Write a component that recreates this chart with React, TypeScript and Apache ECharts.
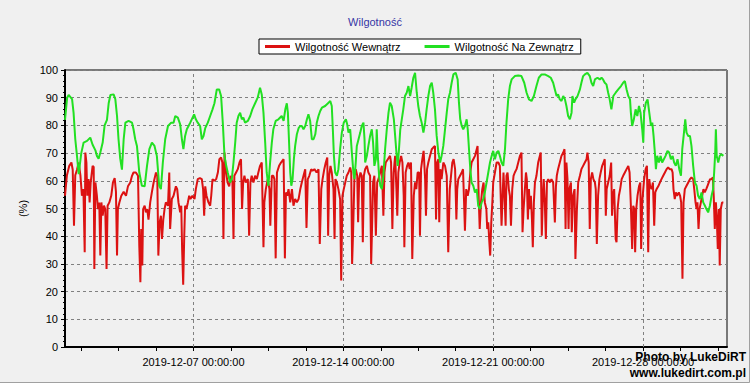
import React, { useEffect, useRef } from 'react';
import * as echarts from 'echarts';

// x values are days elapsed since 2019-12-01 00:00:00
const xMaxDay = 30.92;
const labelDays = [6, 13, 20, 27];
const labelTexts = ['2019-12-07 00:00:00', '2019-12-14 00:00:00', '2019-12-21 00:00:00', '2019-12-28 00:00:00'];
const minorTickDays = [0.75, 2.5, 4.25, 6, 7.75, 9.5, 11.25, 13, 14.75, 16.5, 18.25, 20, 21.75, 23.5, 25.25, 27, 28.75, 30.5];
const seriesNames = ['Wilgotność Wewnątrz', 'Wilgotność Na Zewnątrz'];
const chartTitle = 'Wilgotność';
const yName = '(%)';

const indoor: [number, number][] = [
  [0, 54.6], [0.09, 62], [0.2, 65.4], [0.3, 66.6], [0.36, 64], [0.42, 43.8], [0.48, 62], [0.56, 64], [0.64, 66.6], [0.72, 62], [0.79, 54.6], [0.86, 57], [0.92, 34.2], [0.95, 70.2], [1.0, 66.6], [1.04, 54.6], [1.1, 60.6], [1.15, 52.2], [1.2, 59.4], [1.29, 65.4], [1.34, 65], [1.37, 28.2], [1.42, 59.4], [1.49, 54.6], [1.54, 49.8], [1.6, 52.2], [1.65, 33], [1.7, 52.2], [1.76, 47.4], [1.82, 51], [1.88, 49.8], [1.94, 28.2], [1.99, 51], [2.07, 52.2], [2.16, 54.6], [2.24, 59.4], [2.32, 61], [2.38, 56], [2.43, 33], [2.47, 49.8], [2.54, 52.2], [2.63, 54.6], [2.74, 56], [2.85, 54.6], [2.94, 58], [3.05, 59.4], [3.13, 61.8], [3.2, 63], [3.31, 63], [3.41, 61.8], [3.47, 36.6], [3.52, 23.4], [3.56, 42.6], [3.61, 29.4], [3.65, 49.8], [3.72, 51], [3.78, 48.6], [3.84, 49.8], [3.9, 46], [3.98, 52.2], [4.06, 56], [4.14, 59.4], [4.25, 63], [4.31, 61.8], [4.36, 33], [4.42, 45], [4.48, 47.4], [4.53, 39], [4.59, 46], [4.65, 49.8], [4.71, 52.2], [4.81, 51], [4.87, 63], [4.91, 42.6], [4.99, 53.4],
  [5.07, 54.6], [5.18, 58], [5.24, 57], [5.3, 52.2], [5.38, 48.6], [5.43, 51], [5.47, 35.4], [5.52, 22.5], [5.57, 40.2], [5.61, 51], [5.67, 49.8], [5.74, 52.2], [5.8, 54.6], [5.86, 53.4], [5.95, 54.6], [6.05, 53.4], [6.11, 57], [6.2, 60.6], [6.3, 61], [6.39, 60.6], [6.45, 57], [6.5, 47.4], [6.55, 58], [6.61, 54.6], [6.7, 52.2], [6.78, 51], [6.83, 54.6], [6.89, 60.6], [6.98, 60], [7.06, 60.6], [7.14, 63], [7.21, 67.8], [7.29, 68.4], [7.35, 66.6], [7.4, 39], [7.45, 70.2], [7.51, 64], [7.59, 59.4], [7.67, 58], [7.73, 61.8], [7.82, 59.4], [7.87, 39], [7.91, 61.8], [7.99, 63], [8.07, 64.2], [8.15, 66.6], [8.22, 67.8], [8.27, 49.8], [8.32, 59.4], [8.38, 61.8], [8.44, 59.4], [8.54, 60.6], [8.6, 40.2], [8.66, 59.4], [8.72, 61.8], [8.8, 59.4], [8.88, 61.8], [8.96, 60.6], [9.03, 63], [9.11, 65.4], [9.19, 66.6], [9.27, 36], [9.31, 52.2], [9.38, 57], [9.47, 60.6], [9.55, 57], [9.59, 43.8], [9.66, 61.8], [9.73, 61.8], [9.78, 60.6], [9.84, 32], [9.9, 63], [10.0, 65.4], [10.09, 66.6],
  [10.21, 67.8], [10.27, 32], [10.32, 55.8], [10.38, 54.6], [10.44, 57], [10.52, 52.2], [10.6, 57], [10.67, 51], [10.75, 53.4], [10.83, 52.2], [10.91, 53.4], [10.99, 57], [11.06, 59.4], [11.14, 61.8], [11.22, 64.2], [11.28, 43], [11.34, 60.6], [11.41, 61.8], [11.5, 64.2], [11.56, 63.6], [11.65, 64.2], [11.75, 63], [11.84, 64.2], [11.9, 37.2], [11.97, 57], [12.03, 60.6], [12.11, 64.2], [12.18, 66.6], [12.25, 68.4], [12.29, 40.2], [12.34, 61.8], [12.4, 65.4], [12.46, 63], [12.54, 57], [12.59, 39], [12.63, 60.6], [12.7, 59.4], [12.77, 57], [12.85, 53.4], [12.9, 24], [12.96, 54.6], [13.02, 57], [13.09, 59.4], [13.16, 61.8], [13.24, 63], [13.32, 64.8], [13.37, 63], [13.41, 30], [13.46, 42.6], [13.52, 61.8], [13.58, 64.2], [13.65, 61.8], [13.69, 45], [13.74, 60.6], [13.8, 63], [13.86, 61.8], [13.91, 37.8], [13.96, 61.8], [14.02, 64.2], [14.1, 65.4], [14.17, 63], [14.25, 61.8], [14.3, 30], [14.34, 42.6], [14.39, 59.4], [14.45, 61.8], [14.52, 40.2], [14.58, 59.4], [14.64, 60.6], [14.72, 63], [14.8, 65.4], [14.87, 47.4], [14.92, 63], [14.98, 66.6], [15.08, 67.8], [15.18, 69], [15.23, 66.6], [15.29, 42.6],
  [15.35, 63], [15.42, 69], [15.48, 57], [15.52, 47.4], [15.57, 63], [15.63, 66.6], [15.7, 69], [15.76, 66.6], [15.82, 54.6], [15.85, 36], [15.91, 63], [15.98, 65.4], [16.04, 66.6], [16.1, 64.2], [16.16, 66.6], [16.22, 31.8], [16.29, 54.6], [16.35, 59.4], [16.41, 57], [16.47, 63], [16.54, 63], [16.58, 40.2], [16.63, 64.2], [16.69, 67.8], [16.75, 70.8], [16.82, 60.6], [16.86, 47.4], [16.91, 64.2], [16.97, 66.6], [17.05, 69], [17.13, 71.4], [17.2, 72], [17.28, 72.6], [17.33, 46], [17.38, 66.6], [17.44, 67.8], [17.48, 45], [17.53, 64.2], [17.59, 60.6], [17.67, 66.6], [17.75, 65.4], [17.83, 61.8], [17.9, 34.2], [17.97, 57], [18.03, 61.8], [18.09, 66.6], [18.15, 67.8], [18.22, 64.2], [18.28, 46], [18.32, 57], [18.37, 60.6], [18.45, 61.8], [18.53, 63], [18.59, 64.2], [18.64, 52.2], [18.68, 42], [18.74, 57], [18.81, 54.6], [18.87, 57], [18.93, 63], [18.99, 66.6], [19.07, 67.8], [19.15, 69], [19.23, 71.4], [19.27, 72.6], [19.32, 54.6], [19.37, 42.6], [19.43, 52.2], [19.49, 57], [19.55, 59.4], [19.61, 52.2], [19.68, 49.8], [19.72, 42.6], [19.77, 45], [19.82, 37.8], [19.86, 33], [19.91, 45], [19.96, 52.2], [20.0, 59.4], [20.08, 63], [20.16, 66.6], [20.24, 66.6], [20.31, 65.4], [20.39, 43.8],
  [20.48, 63], [20.53, 54.6], [20.58, 43.8], [20.62, 61.8], [20.67, 63], [20.73, 57], [20.78, 54.6], [20.83, 43.8], [20.89, 57], [20.95, 61.8], [21.01, 63], [21.09, 64.2], [21.17, 66.6], [21.25, 69], [21.32, 70.2], [21.37, 41.4], [21.42, 49.8], [21.48, 57], [21.53, 63], [21.57, 60.6], [21.62, 46], [21.67, 57], [21.71, 49.8], [21.76, 54.6], [21.81, 46], [21.85, 36], [21.9, 52.2], [21.95, 59.4], [22.02, 61.8], [22.1, 66.6], [22.18, 69], [22.22, 70.2], [22.27, 40.2], [22.32, 54.6], [22.36, 60.6], [22.41, 52.2], [22.46, 39], [22.51, 59.4], [22.57, 60.6], [22.65, 59.4], [22.72, 60.6], [22.8, 59.4], [22.88, 45], [22.93, 58], [22.97, 61.8], [23.03, 64.2], [23.11, 66.6], [23.19, 69], [23.27, 70.2], [23.33, 71.4], [23.38, 42.6], [23.42, 66.6], [23.47, 60.6], [23.52, 42.6], [23.56, 57], [23.63, 59.4], [23.67, 41.4], [23.73, 54.6], [23.8, 57], [23.84, 31.8], [23.91, 49.8], [23.97, 59.4], [24.05, 61.8], [24.12, 64.2], [24.2, 65.4], [24.28, 66.6], [24.36, 67.8], [24.4, 70.2], [24.46, 66.6], [24.51, 42.6], [24.56, 60.6], [24.62, 63], [24.68, 60.6], [24.75, 59.4], [24.79, 57], [24.84, 37.2], [24.9, 54.6], [24.96, 60.6], [25.02, 63], [25.09, 65.4], [25.15, 66.6], [25.21, 67.8], [25.26, 47.4], [25.3, 57], [25.37, 59.4], [25.44, 61.8], [25.51, 66.6], [25.55, 47.4],
  [25.59, 54.6], [25.65, 57], [25.72, 39], [25.76, 37.8], [25.81, 49.8], [25.87, 54.6], [25.93, 57], [26.0, 60.6], [26.07, 61.8], [26.15, 63], [26.23, 64.2], [26.31, 65.4], [26.37, 63], [26.43, 51], [26.49, 35.4], [26.54, 51], [26.59, 49.8], [26.63, 34.2], [26.68, 49.8], [26.74, 54.6], [26.81, 58], [26.87, 59.4], [26.91, 35.4], [26.96, 52.2], [27.01, 57], [27.05, 60.6], [27.12, 64.2], [27.18, 65.4], [27.24, 34.2], [27.29, 60.6], [27.33, 58], [27.4, 57], [27.46, 59.4], [27.52, 43.8], [27.57, 55.8], [27.63, 57], [27.71, 58], [27.79, 59.4], [27.86, 60.6], [27.94, 61.8], [28.02, 63], [28.1, 64.2], [28.17, 64.8], [28.25, 64.2], [28.33, 64.2], [28.38, 63], [28.42, 57], [28.48, 53.4], [28.53, 55.8], [28.59, 54.6], [28.67, 55.8], [28.73, 54.6], [28.78, 52.2], [28.84, 24.6], [28.89, 52.2], [28.95, 57], [29.03, 58.2], [29.11, 59.4], [29.19, 60.6], [29.26, 61.2], [29.34, 60.6], [29.39, 57], [29.45, 52.2], [29.5, 49.8], [29.54, 52.2], [29.59, 42.6], [29.64, 49.8], [29.7, 52.2], [29.76, 54.6], [29.82, 57], [29.88, 55.8], [29.95, 57], [30.01, 58.2], [30.07, 59.4], [30.13, 60.6], [30.2, 60.6], [30.26, 61.2], [30.3, 54.6], [30.35, 42.6], [30.4, 52.2], [30.44, 47.4], [30.49, 35.4], [30.54, 49.8], [30.58, 29.4], [30.63, 49.8], [30.69, 52.2], [30.75, 52.2],
];

const outdoor: [number, number][] = [
  [0, 82], [0.1, 90], [0.17, 91], [0.33, 89.5], [0.4, 84.6], [0.48, 75], [0.56, 69], [0.64, 62.4], [0.76, 70], [0.87, 73.8], [1.03, 74.4], [1.18, 75.6], [1.29, 73], [1.42, 71], [1.49, 69], [1.57, 68], [1.65, 70.2], [1.76, 73.8], [1.85, 80], [1.96, 82], [2.04, 88], [2.12, 91], [2.27, 91.2], [2.35, 89.5], [2.43, 83.4], [2.5, 75], [2.58, 68], [2.66, 64], [2.74, 75], [2.82, 81], [2.97, 81.6], [3.13, 81], [3.2, 78.6], [3.28, 75], [3.36, 72.6], [3.47, 63], [3.59, 58.2], [3.72, 58], [3.83, 65.4], [3.94, 71.4], [4.06, 73.8], [4.18, 72.6], [4.29, 69], [4.4, 58.2], [4.48, 57], [4.57, 66.6], [4.68, 75], [4.81, 79.8], [4.96, 81], [5.07, 81],
  [5.15, 83.4], [5.27, 82.8], [5.38, 80.4], [5.46, 75], [5.53, 71.4], [5.61, 76.2], [5.69, 78.6], [5.77, 79.8], [5.85, 81], [5.92, 82.2], [6.03, 84], [6.11, 82.2], [6.2, 81], [6.31, 79.8], [6.39, 75], [6.47, 76.2], [6.55, 79], [6.67, 81], [6.78, 83.4], [6.89, 85.8], [6.98, 88], [7.09, 93], [7.2, 93], [7.29, 90.6], [7.37, 81], [7.45, 69], [7.53, 65.4], [7.6, 63], [7.71, 59.4], [7.79, 60.6], [7.87, 66.6], [7.95, 73.8], [8.02, 81], [8.1, 83.4], [8.18, 84.6], [8.26, 82.2], [8.33, 82.8], [8.41, 81], [8.54, 81.6], [8.65, 83.4], [8.75, 85.8], [8.88, 88], [9.0, 90], [9.11, 93.6], [9.19, 91.2], [9.27, 84.6], [9.35, 73.8], [9.42, 63], [9.5, 58.2], [9.58, 66.6], [9.66, 73.8], [9.73, 78.6], [9.84, 81.6], [9.97, 82.2], [10.12, 83.4],
  [10.21, 81.6], [10.29, 85.8], [10.36, 88], [10.41, 84.6], [10.47, 73], [10.52, 63], [10.57, 58.2], [10.63, 60.6], [10.69, 67.8], [10.75, 72.6], [10.83, 76.8], [10.91, 79], [10.99, 79.8], [11.06, 79.8], [11.14, 78.6], [11.22, 79.8], [11.3, 82.2], [11.37, 84], [11.45, 81.6], [11.53, 75], [11.61, 75], [11.69, 76.8], [11.76, 81], [11.84, 83.4], [11.92, 85.2], [12.0, 86.4], [12.15, 87], [12.31, 88.2], [12.39, 88.8], [12.46, 87], [12.51, 78.6], [12.56, 69], [12.62, 63], [12.7, 61.8], [12.77, 64.2], [12.85, 71.4], [12.93, 77.4], [13.02, 81], [13.12, 82.2], [13.18, 80.4], [13.24, 77.4], [13.32, 78.6], [13.4, 70], [13.47, 63], [13.52, 60.6], [13.58, 66.6], [13.63, 72.6], [13.71, 75], [13.79, 77.4], [13.86, 79.8], [13.94, 81], [13.99, 75], [14.02, 66.6], [14.1, 69], [14.17, 72.6], [14.25, 76.2], [14.33, 78.6], [14.39, 73.8], [14.45, 65.4], [14.52, 67.8], [14.56, 78.6], [14.61, 69], [14.67, 61.8], [14.73, 58.2], [14.8, 57], [14.87, 61.8], [14.95, 71.4], [15.03, 78.6], [15.11, 84.6], [15.18, 88.2], [15.26, 87], [15.36, 82.2],
  [15.42, 76.2], [15.48, 70.2], [15.54, 65.4], [15.6, 71.4], [15.66, 78.6], [15.73, 82.2], [15.8, 85.8], [15.88, 90.6], [15.96, 91.8], [16.04, 94.2], [16.12, 90.6], [16.19, 93.6], [16.27, 97.2], [16.35, 99], [16.43, 91.8], [16.5, 87], [16.58, 83.4], [16.66, 81], [16.74, 77.4], [16.82, 81], [16.89, 85.8], [16.97, 90.6], [17.05, 94.2], [17.13, 95.4], [17.2, 91.8], [17.28, 85.8], [17.36, 76.2], [17.44, 70.2], [17.52, 66.6], [17.59, 69], [17.67, 72.6], [17.75, 78.6], [17.83, 84.6], [17.9, 89.4], [17.98, 91.8], [18.06, 95.4], [18.14, 98.4], [18.25, 99], [18.34, 96.6], [18.4, 88.2], [18.46, 82.2], [18.53, 79.8], [18.6, 78.6], [18.68, 79.8], [18.76, 82.2], [18.81, 78.6], [18.87, 71.4], [18.93, 64.2], [18.99, 59.4], [19.07, 58.2], [19.15, 55.8], [19.23, 57], [19.3, 51], [19.38, 49.8], [19.46, 52.2], [19.54, 53.4], [19.61, 55.8], [19.69, 59.4], [19.77, 63], [19.85, 66.6], [19.93, 69], [20.0, 70.8], [20.08, 67.8], [20.16, 70.2], [20.24, 70.8], [20.31, 69], [20.39, 66.6],
  [20.47, 65.4], [20.55, 71.4], [20.62, 81], [20.7, 89.4], [20.78, 94.2], [20.86, 96.6], [21.01, 97.8], [21.17, 98], [21.32, 97.8], [21.45, 95.4], [21.56, 91.8], [21.67, 89.4], [21.79, 88.8], [21.9, 90.6], [22.02, 94.2], [22.13, 97.2], [22.26, 98.4], [22.41, 98.4], [22.57, 97.8], [22.69, 97.2], [22.8, 95.4], [22.88, 93], [22.96, 90.6], [23.03, 91.2], [23.11, 89.4], [23.19, 88.8], [23.27, 90.6], [23.35, 89.4], [23.42, 87], [23.5, 83.4], [23.58, 82.2], [23.66, 84.6], [23.7, 90.6], [23.78, 88.2], [23.84, 89.4], [23.94, 90.6], [24.05, 93], [24.12, 95.4], [24.2, 97.8], [24.28, 98.4], [24.4, 99], [24.51, 97.8], [24.59, 95.4], [24.67, 94.2], [24.75, 96.6], [24.87, 97.2], [24.98, 96.6], [25.06, 97.2], [25.13, 96.6], [25.21, 95.4], [25.29, 94.8], [25.37, 91.8], [25.44, 89.4], [25.52, 85.8],
  [25.61, 90.6], [25.72, 91.8], [25.84, 93], [25.97, 94.2], [26.07, 95.4], [26.15, 96], [26.23, 93], [26.31, 90.6], [26.39, 89.4], [26.43, 84.6], [26.49, 79.8], [26.57, 82.2], [26.65, 85.8], [26.73, 83.4], [26.81, 87], [26.88, 84.6], [26.96, 78.6], [27.01, 73.8], [27.05, 84.6], [27.13, 88.2], [27.21, 89.4], [27.29, 84.6], [27.37, 79.8], [27.43, 81], [27.49, 76.2], [27.55, 70.2], [27.6, 64.2], [27.66, 69], [27.74, 66.6], [27.82, 69], [27.89, 66.6], [27.97, 67.8], [28.05, 69], [28.14, 70.8], [28.22, 70.2], [28.3, 67.8], [28.38, 69], [28.45, 66.6], [28.53, 65.4], [28.61, 67.8], [28.69, 64.2], [28.77, 61.8], [28.83, 71.4], [28.91, 77.4], [28.97, 82.2], [29.03, 77.4], [29.11, 76.2], [29.19, 76.2], [29.26, 72.6], [29.34, 65.4], [29.42, 59.4], [29.5, 58.2], [29.57, 54.6], [29.65, 53.4], [29.73, 55.8], [29.81, 52.2], [29.89, 51], [29.96, 49.8], [30.04, 48.6], [30.12, 51], [30.2, 54.6], [30.27, 57], [30.32, 63], [30.37, 70.2], [30.4, 78.6], [30.44, 69], [30.51, 66.6], [30.58, 69], [30.66, 69.6], [30.75, 69],
];

const FONT = '"Liberation Sans", Arial, sans-serif';
const RED = '#dc1212';
const GREEN = '#22e022';

export default function App() {
  const ref = useRef<HTMLDivElement>(null);

  useEffect(() => {
    document.body.style.margin = '0';
    if (!ref.current) return;
    const chart = echarts.init(ref.current, undefined, { renderer: 'svg' });
    chart.setOption({
      animation: false,
      backgroundColor: '#f0f0f0',
      textStyle: { fontFamily: FONT },
      title: {
        text: chartTitle,
        left: 'center',
        top: 16,
        padding: 0,
        textStyle: { fontSize: 11, fontWeight: 'normal', color: '#3535a5', fontFamily: FONT },
      },
      legend: {
        left: 259,
        top: 39,
        padding: [2, 7, 2, 6],
        itemGap: 24,
        itemWidth: 25,
        itemHeight: 3,
        backgroundColor: '#ffffff',
        borderColor: '#000000',
        borderWidth: 1,
        borderRadius: 0,
        selectedMode: false,
        textStyle: { fontSize: 11, color: '#000', fontFamily: FONT },
        data: [
          { name: seriesNames[0], icon: 'rect' },
          { name: seriesNames[1], icon: 'rect' },
        ],
      },
      grid: {
        left: 65,
        right: 23,
        top: 70,
        bottom: 36,
        show: true,
        borderColor: '#000',
        borderWidth: 1,
        backgroundColor: 'transparent',
      },
      xAxis: {
        type: 'value',
        min: 0,
        max: xMaxDay,
        axisLine: { show: true, onZero: false, lineStyle: { color: '#000', width: 2 } },
        axisTick: { show: true, customValues: minorTickDays, length: 4, lineStyle: { color: '#000' } },
        axisLabel: {
          customValues: labelDays,
          formatter: (v: number) => {
            const i = labelDays.indexOf(v);
            return i >= 0 ? labelTexts[i] : '';
          },
          fontSize: 11,
          color: '#000',
          margin: 9,
          fontFamily: FONT,
        },
        splitLine: { show: false },
      },
      yAxis: {
        type: 'value',
        min: 0,
        max: 100,
        interval: 10,
        name: yName,
        nameLocation: 'middle',
        nameGap: 24,
        nameRotate: 90,
        nameTextStyle: { fontSize: 11, color: '#000', fontFamily: FONT },
        axisLine: { show: true, lineStyle: { color: '#000', width: 2 } },
        axisTick: { show: true, length: 4, lineStyle: { color: '#000' } },
        minorTick: { show: true, splitNumber: 5, length: 2, lineStyle: { color: '#000' } },
        axisLabel: { fontSize: 11, color: '#000', margin: 7, fontFamily: FONT },
        splitLine: { show: true, lineStyle: { type: [3, 3], color: '#808080', width: 1 } },
      },
      series: [
        {
          name: seriesNames[0],
          type: 'line',
          data: indoor,
          showSymbol: false,
          symbol: 'none',
          z: 3,
          lineStyle: { color: RED, width: 2 },
          itemStyle: { color: RED },
          markLine: {
            silent: true,
            symbol: ['none', 'none'],
            z: 1,
            label: { show: false },
            emphasis: { disabled: true },
            lineStyle: { type: [3, 3], color: '#808080', width: 1 },
            data: labelDays.map((d) => ({ xAxis: d })),
          },
        },
        {
          name: seriesNames[1],
          type: 'line',
          data: outdoor,
          showSymbol: false,
          symbol: 'none',
          z: 4,
          lineStyle: { color: GREEN, width: 2 },
          itemStyle: { color: GREEN },
        },
      ],
      graphic: [
        {
          type: 'text',
          right: 4,
          top: 351,
          z: 100,
          style: { text: 'Photo by LukeDiRT', font: `bold 12px ${FONT}`, fill: '#000' },
        },
        {
          type: 'text',
          right: 4,
          top: 367,
          z: 100,
          style: { text: 'www.lukedirt.com.pl', font: `bold 12px ${FONT}`, fill: '#000' },
        },
        {
          type: 'polyline',
          z: 100,
          shape: { points: [[0, 382.5], [749.5, 382.5], [749.5, 0]] },
          style: { stroke: '#a0a0a0', fill: 'none', lineWidth: 1 },
        },
      ],
    });
    return () => chart.dispose();
  }, []);

  return <div ref={ref} style={{ width: 750, height: 383 }} />;
}
